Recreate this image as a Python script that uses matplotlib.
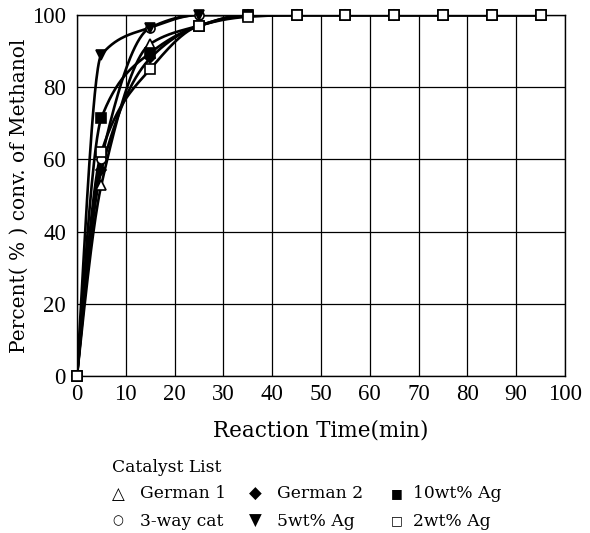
import numpy as np
import matplotlib.pyplot as plt

# reaction time (min) and conversion (%)
time_min = [0, 5, 15, 25, 35, 45, 55, 65, 75, 85, 95]
german1 = [0, 53, 92, 97, 100, 100, 100, 100, 100, 100, 100]
german2 = [0, 57, 88, 97, 100, 100, 100, 100, 100, 100, 100]
ag10 = [0, 71.5, 89.5, 97, 100, 100, 100, 100, 100, 100, 100]
cat3way = [0, 60, 96.5, 100, 100, 100, 100, 100, 100, 100, 100]
ag5 = [0, 89, 96.5, 100, 100, 100, 100, 100, 100, 100, 100]
ag2 = [0, 62, 85, 97, 99.5, 100, 100, 100, 100, 100, 100]

xticks = list(range(0, 101, 10))
yticks = list(range(0, 101, 20))

TICKFONT = ['Liberation Serif', 'DejaVu Serif']
SERIF = ['DejaVu Serif']
SYM = ['DejaVu Sans']


def pchip(x, y, xs):
    # monotone cubic (Fritsch-Carlson) so the curves do not overshoot 100
    x = np.asarray(x, float)
    y = np.asarray(y, float)
    h = np.diff(x)
    d = np.diff(y) / h
    m = np.zeros_like(y)
    for k in range(1, len(x) - 1):
        if d[k - 1] * d[k] > 0:
            w1 = 2 * h[k] + h[k - 1]
            w2 = h[k] + 2 * h[k - 1]
            m[k] = (w1 + w2) / (w1 / d[k - 1] + w2 / d[k])
    m0 = ((2 * h[0] + h[1]) * d[0] - h[0] * d[1]) / (h[0] + h[1])
    m[0] = m0 if np.sign(m0) == np.sign(d[0]) else 0
    m[-1] = d[-1]
    i = np.clip(np.searchsorted(x, xs) - 1, 0, len(x) - 2)
    t = (xs - x[i]) / h[i]
    h00 = 2 * t**3 - 3 * t**2 + 1
    h10 = t**3 - 2 * t**2 + t
    h01 = -2 * t**3 + 3 * t**2
    h11 = t**3 - t**2
    return h00 * y[i] + h10 * h[i] * m[i] + h01 * y[i + 1] + h11 * h[i] * m[i + 1]


fig = plt.figure(figsize=(5.9, 5.33), dpi=100)
ax = fig.add_axes([0.1305, 0.2946, 0.827, 0.6773])

xs = np.linspace(0, 95, 600)
series = [
    (german1, '^', 'white'),
    (german2, 'D', 'black'),
    (ag10, 's', 'black'),
    (cat3way, 'o', 'white'),
    (ag5, 'v', 'black'),
    (ag2, 's', 'white'),
]
for vals, mk, fc in series:
    ax.plot(xs, pchip(time_min, vals, xs), color='black', lw=1.9, zorder=3)
    ms = 5 if mk == 'D' else 6.5
    ax.plot(time_min, vals, ls='none', marker=mk, ms=ms, mfc=fc, mec='black',
            mew=1.2, zorder=4, clip_on=False)

ax.set_xlim(0, 100)
ax.set_ylim(0, 100)
ax.set_xticks(xticks)
ax.set_yticks(yticks)
ax.grid(True, color='black', lw=0.9)
ax.tick_params(length=0, labelsize=16.5)
ax.tick_params(axis='y', pad=8)
ax.tick_params(axis='x', pad=6)
for lab in ax.get_xticklabels() + ax.get_yticklabels():
    lab.set_family(TICKFONT)
for s in ax.spines.values():
    s.set_linewidth(1.0)

ax.set_xlabel('Reaction Time(min)', fontsize=15.5, family=SERIF, labelpad=10)
ax.set_ylabel('Percent( % ) conv. of Methanol', fontsize=14.5, family=SERIF,
              labelpad=2)

# catalyst list under the chart
fig.text(112 / 590, 1 - 468 / 533, 'Catalyst List', fontsize=12.3,
         family=SERIF, va='center')
legend_rows = [
    [('△', 'German 1'), ('◆', 'German 2'), ('■', '10wt% Ag')],
    [('○', '3-way cat'), ('▼', '5wt% Ag'), ('□', '2wt% Ag')],
]
sym_x = [118, 255, 397]
txt_x = [140, 277, 413]
row_y = [494, 521]
for r, row in enumerate(legend_rows):
    for c, (sym, name) in enumerate(row):
        size = 9 if sym in '■□○' else 12
        fig.text(sym_x[c] / 590, 1 - row_y[r] / 533, sym, fontsize=size,
                 family=SYM, ha='center', va='center')
        fig.text(txt_x[c] / 590, 1 - row_y[r] / 533, name, fontsize=12.3,
                 family=SERIF, va='center')

fig.savefig('out.png', dpi=100)
